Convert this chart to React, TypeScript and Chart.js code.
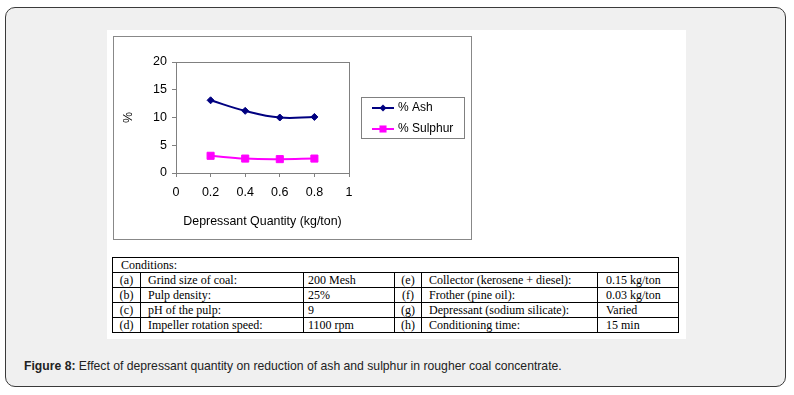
import React, { useEffect, useRef } from "react";
import { Chart, registerables } from "chart.js";

Chart.register(...registerables);

// ---- data ----
const depressantQty = [0.2, 0.4, 0.6, 0.8];
const ashPct = [13.1, 11.2, 10.0, 10.1];
const sulphurPct = [3.1, 2.6, 2.5, 2.6];
const xTickValues = [0, 0.2, 0.4, 0.6, 0.8, 1];
const yTickValues = [0, 5, 10, 15, 20];
const seriesNames = ["% Ash", "% Sulphur"];
const xAxisTitle = "Depressant Quantity (kg/ton)";
const yAxisTitle = "%";

const conditionsHeader = "Conditions:";
const leftKeys = ["(a)", "(b)", "(c)", "(d)"];
const leftLabels = ["Grind size of coal:", "Pulp density:", "pH of the pulp:", "Impeller rotation speed:"];
const leftValues = ["200 Mesh", "25%", "9", "1100 rpm"];
const rightKeys = ["(e)", "(f)", "(g)", "(h)"];
const rightLabels = ["Collector (kerosene + diesel):", "Frother (pine oil):", "Depressant (sodium silicate):", "Conditioning time:"];
const rightValues = ["0.15 kg/ton", "0.03 kg/ton", "Varied", "15 min"];

const captionBold = "Figure 8:";
const captionText = " Effect of depressant quantity on reduction of ash and sulphur in rougher coal concentrate.";

const SANS = "'Liberation Sans', Arial, sans-serif";
const SERIF = "'Liberation Serif', 'Times New Roman', serif";

const framePlugin = {
  id: "plotFrame",
  afterDatasetsDraw(chart: any) {
    const { ctx, chartArea } = chart;
    ctx.save();
    ctx.strokeStyle = "#808080";
    ctx.lineWidth = 1;
    ctx.strokeRect(
      Math.floor(chartArea.left) + 0.5,
      Math.floor(chartArea.top) + 0.5,
      Math.round(chartArea.right - chartArea.left),
      Math.round(chartArea.bottom - chartArea.top)
    );
    ctx.restore();
  },
};

const legendPlugin = {
  id: "boxLegend",
  afterDraw(chart: any) {
    const ctx = chart.ctx;
    ctx.save();
    ctx.strokeStyle = "#808080";
    ctx.lineWidth = 1;
    ctx.strokeRect(247.5, 60.5, 103, 41);
    const rows = [71, 92];
    chart.data.datasets.forEach((ds: any, i: number) => {
      const y = rows[i];
      ctx.strokeStyle = ds.borderColor;
      ctx.lineWidth = 2;
      ctx.beginPath();
      ctx.moveTo(258, y);
      ctx.lineTo(280, y);
      ctx.stroke();
      const cx = 269;
      ctx.fillStyle = ds.backgroundColor;
      ctx.beginPath();
      if (ds.pointStyle === "rectRot") {
        const r = ds.pointRadius;
        ctx.moveTo(cx - r, y);
        ctx.lineTo(cx, y - r);
        ctx.lineTo(cx + r, y);
        ctx.lineTo(cx, y + r);
        ctx.closePath();
      } else {
        const s = ds.pointRadius * Math.SQRT1_2;
        ctx.rect(cx - s, y - s, 2 * s, 2 * s);
      }
      ctx.fill();
      ctx.fillStyle = "#000";
      ctx.font = "12px " + SANS;
      ctx.textBaseline = "middle";
      ctx.textAlign = "left";
      ctx.fillText(ds.label, 284, y);
    });
    ctx.restore();
  },
};

function ChartBox() {
  const ref = useRef<HTMLCanvasElement | null>(null);
  useEffect(() => {
    if (!ref.current) return;
    const tickFont = { family: SANS, size: 12.5 };
    const titleFont = { family: SANS, size: 12.4 };
    const chart = new Chart(ref.current, {
      type: "line",
      data: {
        datasets: [
          {
            label: seriesNames[0],
            data: depressantQty.map((x, i) => ({ x, y: ashPct[i] })),
            borderColor: "#000080",
            backgroundColor: "#000080",
            borderWidth: 2,
            pointStyle: "rectRot",
            pointRadius: 3.5,
            pointBorderWidth: 1,
            tension: 0.4,
          },
          {
            label: seriesNames[1],
            data: depressantQty.map((x, i) => ({ x, y: sulphurPct[i] })),
            borderColor: "#ff00ff",
            backgroundColor: "#ff00ff",
            borderWidth: 2,
            pointStyle: "rect",
            pointRadius: 5,
            pointBorderWidth: 1,
            tension: 0.4,
          },
        ],
      } as any,
      options: {
        responsive: false,
        animation: false,
        devicePixelRatio: 1,
        layout: { padding: { left: 0, right: 122, top: 25, bottom: 0 } },
        plugins: { legend: { display: false }, tooltip: { enabled: false } },
        scales: {
          x: {
            type: "linear",
            min: 0,
            max: 1,
            afterBuildTicks: (s: any) => {
              s.ticks = xTickValues.map((v) => ({ value: v }));
            },
            afterFit: (s: any) => {
              s.height = 66;
            },
            ticks: {
              color: "#000",
              font: tickFont,
              padding: 8,
              maxRotation: 0,
              autoSkip: false,
              callback: (v: any) => String(v),
            },
            grid: { display: true, drawOnChartArea: false, drawTicks: true, tickLength: 4, color: "#808080" },
            border: { display: true, color: "#808080" },
            title: { display: true, text: xAxisTitle, color: "#000", font: titleFont, padding: { top: 0, bottom: 10 } },
          },
          y: {
            type: "linear",
            min: 0,
            max: 20,
            afterBuildTicks: (s: any) => {
              s.ticks = yTickValues.map((v) => ({ value: v }));
            },
            afterFit: (s: any) => {
              s.width = 62;
            },
            ticks: { color: "#000", font: tickFont, padding: 5, callback: (v: any) => String(v) },
            grid: { display: true, drawOnChartArea: false, drawTicks: true, tickLength: 4, color: "#808080" },
            border: { display: true, color: "#808080" },
            title: { display: true, text: yAxisTitle, color: "#000", font: titleFont, padding: { top: 7, bottom: 0 } },
          },
        },
      } as any,
      plugins: [framePlugin, legendPlugin],
    });
    return () => chart.destroy();
  }, []);
  return <canvas ref={ref} width={357} height={202} style={{ display: "block", width: 357, height: 202 }} />;
}

const cell: React.CSSProperties = {
  border: "1px solid #000",
  padding: "0 0 0 7px",
  height: 14,
  lineHeight: "13px",
  whiteSpace: "nowrap",
  overflow: "hidden",
};

export default function App() {
  return (
    <div style={{ position: "absolute", left: 0, top: 0, width: 794, height: 395, background: "#fff", overflow: "hidden" }}>
      <div
        style={{
          position: "absolute",
          left: 5,
          top: 7,
          width: 781,
          height: 380,
          boxSizing: "border-box",
          border: "1.5px solid #3a3a3a",
          borderRadius: 10,
          background: "#f0f0f0",
        }}
      />
      <div style={{ position: "absolute", left: 107, top: 30, width: 579, height: 309, background: "#fff" }} />
      <div
        style={{
          position: "absolute",
          left: 113,
          top: 36,
          width: 359,
          height: 204,
          boxSizing: "border-box",
          border: "1px solid #888",
          background: "#fff",
        }}
      >
        <ChartBox />
      </div>
      <table
        style={{
          position: "absolute",
          left: 112,
          top: 257,
          width: 566,
          height: 75,
          borderCollapse: "collapse",
          tableLayout: "fixed",
          fontFamily: SERIF,
          fontSize: 12,
          color: "#000",
        }}
      >
        <colgroup>
          <col style={{ width: 28 }} />
          <col style={{ width: 163 }} />
          <col style={{ width: 91 }} />
          <col style={{ width: 27 }} />
          <col style={{ width: 176 }} />
          <col style={{ width: 81 }} />
        </colgroup>
        <tbody>
          <tr>
            <td colSpan={6} style={{ ...cell, paddingLeft: 8 }}>{conditionsHeader}</td>
          </tr>
          {leftKeys.map((k, i) => (
            <tr key={k}>
              <td style={{ ...cell, paddingLeft: 0, textAlign: "center" }}>{k}</td>
              <td style={cell}>{leftLabels[i]}</td>
              <td style={{ ...cell, paddingLeft: 4 }}>{leftValues[i]}</td>
              <td style={{ ...cell, paddingLeft: 0, textAlign: "center" }}>{rightKeys[i]}</td>
              <td style={cell}>{rightLabels[i]}</td>
              <td style={{ ...cell, paddingLeft: 8 }}>{rightValues[i]}</td>
            </tr>
          ))}
        </tbody>
      </table>
      <div
        style={{
          position: "absolute",
          left: 24,
          top: 358,
          fontFamily: SANS,
          fontSize: 12.2,
          lineHeight: "16px",
          color: "#222",
          whiteSpace: "nowrap",
        }}
      >
        <b>{captionBold}</b>
        {captionText}
      </div>
    </div>
  );
}
